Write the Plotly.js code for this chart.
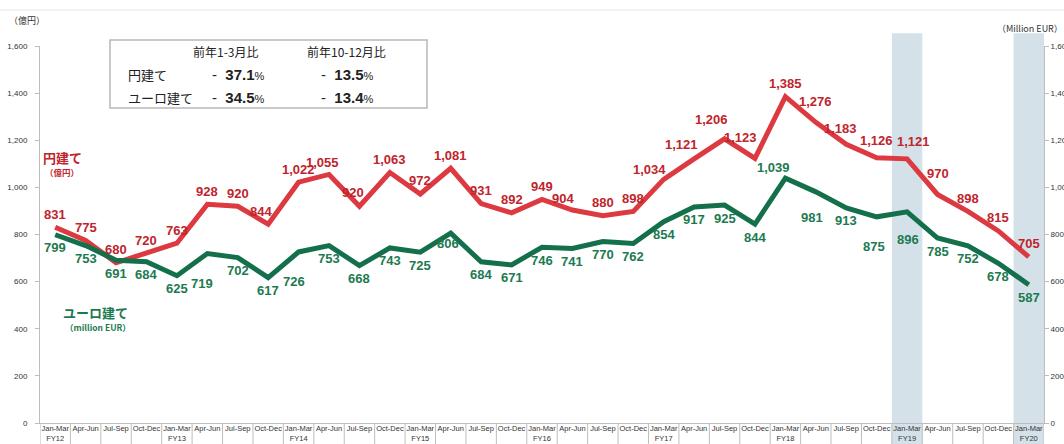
<!DOCTYPE html>
<html>
<head>
<meta charset="utf-8">
<script src="https://cdn.plot.ly/plotly-3.0.1.min.js"></script>
<style>html,body{margin:0;padding:0;background:#fff;}#chart{width:1064px;height:444px;}</style>
</head>
<body>
<div id="chart"></div>
<script>
const quarters = ["Jan-Mar","Apr-Jun","Jul-Sep","Oct-Dec"];
const fiscalYears = ["FY12","FY13","FY14","FY15","FY16","FY17","FY18","FY19","FY20"];
const categories = [];
const tickText = [];
fiscalYears.forEach((fy, i) => {
  quarters.forEach((q, j) => {
    if (i === fiscalYears.length - 1 && j > 0) return;
    categories.push(q + " " + fy);
    tickText.push(j === 0 ? q + "<br>" + fy : q);
  });
});
const yenValues = [831,775,680,720,763,928,920,844,1022,1055,920,1063,972,1081,931,892,949,904,880,898,1034,1121,1206,1123,1385,1276,1183,1126,1121,970,898,815,705];
const eurValues = [799,753,691,684,625,719,702,617,726,753,668,743,725,806,684,671,746,741,770,762,854,917,925,844,1039,981,913,875,896,785,752,678,587];
const highlighted = ["Jan-Mar FY19","Jan-Mar FY20"];
const yTicks = [0,200,400,600,800,1000,1200,1400,1600];

// label nudges (pixels): [xshift, yshift] overrides by point index
const yenNudge = {7:[-7,13], 9:[-7,12], 10:[-6,14], 17:[-9,12], 20:[-14,10], 21:[-13,14], 22:[-13,19], 23:[-14,21], 25:[0,21], 26:[-6,16], 27:[0,17], 28:[6,17], 29:[0,21]};
const eurNudge = {5:[-5,-30], 8:[-5,-30], 13:[-3,-10], 24:[-12,11], 25:[-4,-26], 27:[-3,-30], 28:[1,-28]};

const xIdx = categories.map((c, i) => i);
const FONT = "Liberation Sans, Arial, 'Noto Sans CJK JP', sans-serif";
const JP = "'Noto Sans CJK JP', 'Liberation Sans', sans-serif";
const RED_LINE = "#dc3a40", RED_TXT = "#c0242c", GRN_LINE = "#13704a", GRN_TXT = "#1d7a50";

const traces = [
  {x: xIdx, y: yenValues, type: "scatter", mode: "lines", line: {color: RED_LINE, width: 5},
   hoverinfo: "skip", showlegend: false},
  {x: xIdx, y: eurValues, type: "scatter", mode: "lines", line: {color: GRN_LINE, width: 5},
   hoverinfo: "skip", showlegend: false},
  {x: xIdx, y: eurValues, yaxis: "y2", type: "scatter", mode: "none", hoverinfo: "skip", showlegend: false}
];

function px(x) { return (x - 40) / 1004; }
function py(y) { return (423 - y) / 377; }

const shapes = [];
highlighted.forEach(h => {
  const i = categories.indexOf(h);
  shapes.push({type: "rect", xref: "x", yref: "paper", x0: i - 0.5, x1: i + 0.5, y0: -0.056, y1: 1.034,
    fillcolor: "#d5e1e8", line: {width: 0}, layer: "below"});
});
for (let i = 0; i <= categories.length; i++) {
  shapes.push({type: "line", xref: "x", yref: "paper", x0: i - 0.5, x1: i - 0.5, y0: 0, y1: -0.056,
    line: {color: "#bdbdbd", width: 1}});
}
shapes.push({type: "rect", xref: "paper", yref: "paper",
  x0: px(110), x1: px(427), y0: py(108), y1: py(40),
  line: {color: "#b8b8b8", width: 1.5}, fillcolor: "rgba(0,0,0,0)"});
shapes.push({type: "line", xref: "paper", yref: "paper", x0: -0.04, x1: 1.03, y0: py(10), y1: py(10),
  line: {color: "#e4e4e4", width: 1}});

const annotations = [
  {text: "（億円）", x: px(27), y: py(20), font: {family: JP, size: 9, color: "#333"}},
  {text: "（Million EUR）", x: px(1030), y: py(29), font: {family: JP, size: 9, color: "#333"}},
  {text: "<b>円建て</b>", x: px(62), y: py(157), font: {family: JP, size: 13, color: RED_TXT}},
  {text: "<b>（億円）</b>", x: px(62), y: py(172), font: {family: JP, size: 8.5, color: RED_TXT}},
  {text: "<b>ユーロ建て</b>", x: px(95), y: py(312), font: {family: JP, size: 13, color: GRN_TXT}},
  {text: "<b>（million EUR）</b>", x: px(98), y: py(327), font: {family: JP, size: 8.5, color: GRN_TXT}},
  {text: "前年1-3月比", x: px(226), y: py(52), font: {family: JP, size: 12, color: "#222"}},
  {text: "前年10-12月比", x: px(346), y: py(52), font: {family: JP, size: 12, color: "#222"}},
  {text: "円建て", x: px(126), y: py(74), xanchor: "left", font: {family: JP, size: 13, color: "#222"}},
  {text: "ユーロ建て", x: px(126), y: py(97), xanchor: "left", font: {family: JP, size: 13, color: "#222"}},
  {text: "-  <b>37.1</b><span style='font-size:11px'>%</span>", x: px(210), y: py(74), xanchor: "left", font: {family: FONT, size: 15, color: "#222"}},
  {text: "-  <b>34.5</b><span style='font-size:11px'>%</span>", x: px(210), y: py(97), xanchor: "left", font: {family: FONT, size: 15, color: "#222"}},
  {text: "-  <b>13.5</b><span style='font-size:11px'>%</span>", x: px(319), y: py(74), xanchor: "left", font: {family: FONT, size: 15, color: "#222"}},
  {text: "-  <b>13.4</b><span style='font-size:11px'>%</span>", x: px(319), y: py(97), xanchor: "left", font: {family: FONT, size: 15, color: "#222"}}
].map(a => Object.assign({xref: "paper", yref: "paper", showarrow: false, xanchor: "center", yanchor: "middle"}, a));

function valueLabels(values, nudge, defShift, color) {
  return values.map((v, i) => {
    const n = nudge[i] || [0, defShift];
    return {xref: "x", yref: "y", x: i, y: v, text: "<b>" + v.toLocaleString("en-US") + "</b>",
      showarrow: false, xanchor: "center", yanchor: "middle", xshift: n[0], yshift: n[1],
      font: {family: FONT, size: 13, color: color}};
  });
}
annotations.push(...valueLabels(yenValues, yenNudge, 13, RED_TXT));
annotations.push(...valueLabels(eurValues, eurNudge, -13, GRN_TXT));

const layout = {
  width: 1064, height: 444,
  margin: {l: 40, r: 20, t: 46, b: 21},
  paper_bgcolor: "#fff", plot_bgcolor: "rgba(0,0,0,0)",
  font: {family: FONT, color: "#333"},
  xaxis: {
    range: [-0.5, categories.length - 0.5],
    tickmode: "array", tickvals: xIdx, ticktext: tickText, tickangle: 0,
    tickfont: {family: FONT, size: 7.5, color: "#333"},
    showgrid: false, zeroline: false, showline: true, linecolor: "#bdbdbd", linewidth: 1,
    ticks: "", ticklabelstandoff: -2
  },
  yaxis: {
    range: [0, 1600], tickmode: "array", tickvals: yTicks,
    ticktext: yTicks.map(v => v.toLocaleString("en-US")),
    tickfont: {family: FONT, size: 8, color: "#333"},
    showgrid: false, zeroline: false, showline: true, linecolor: "#bdbdbd", linewidth: 1,
    ticks: "outside", ticklen: 4, tickcolor: "#bdbdbd", ticklabelstandoff: 6
  },
  yaxis2: {
    overlaying: "y", side: "right", range: [0, 1600], tickmode: "array", tickvals: yTicks,
    ticktext: yTicks.map(v => v.toLocaleString("en-US")),
    tickfont: {family: FONT, size: 8, color: "#333"},
    showgrid: false, zeroline: false, showline: true, linecolor: "#bdbdbd", linewidth: 1,
    ticks: "outside", ticklen: 4, tickcolor: "#bdbdbd"
  },
  shapes: shapes,
  annotations: annotations
};

Plotly.newPlot("chart", traces, layout, {displayModeBar: false, staticPlot: true});
</script>
</body>
</html>
